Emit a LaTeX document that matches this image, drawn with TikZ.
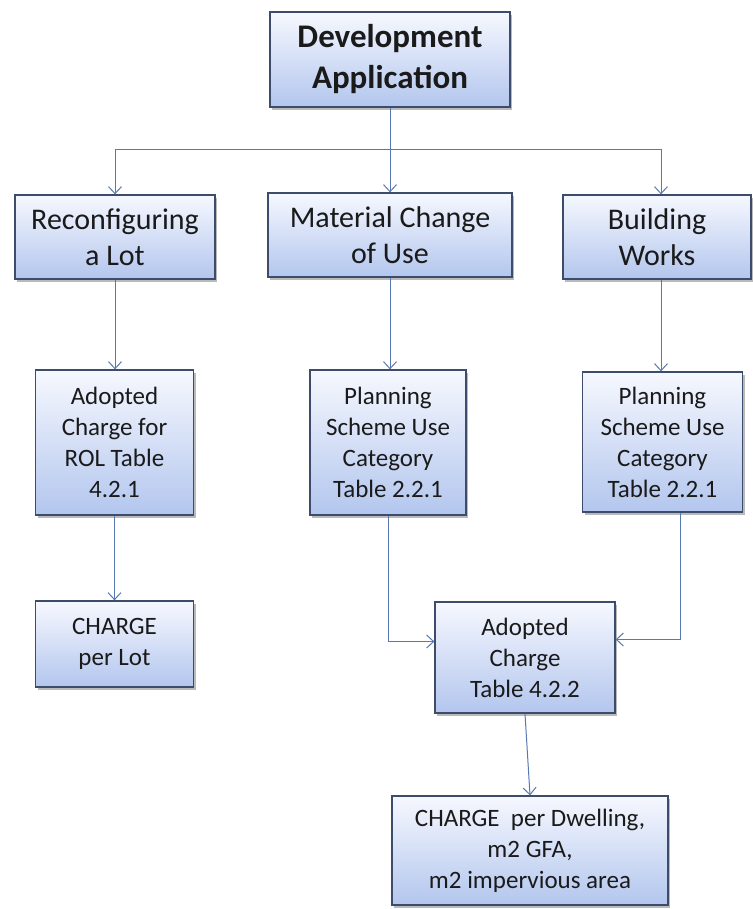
\documentclass[tikz,border=0pt]{standalone}
\usepackage{fontspec}
\setmainfont{Carlito}
\usetikzlibrary{arrows.meta,shadows}
\definecolor{boxedge}{HTML}{3E4C6C}
\definecolor{boxtop}{HTML}{F6F8FE}
\definecolor{boxbot}{HTML}{B3C6EE}
\definecolor{linec}{HTML}{5878B0}
\definecolor{txt}{HTML}{1A1A1A}
\begin{document}
\begin{tikzpicture}[x=1pt,y=-1pt,
  box/.style={draw=boxedge, line width=1.3pt, top color=boxtop, bottom color=boxbot,
    drop shadow={shadow xshift=2pt, shadow yshift=-3pt, fill=black!60, opacity=0.45},
    align=center, text=txt, inner sep=0pt,
    font=\fontsize{25}{31}\selectfont},
  bigbox/.style={box, font=\fontsize{30}{36}\selectfont},
  conn/.style={draw=linec, line width=1pt, -{Straight Barb[length=7pt,width=13pt]}},
  plain/.style={draw=linec, line width=1pt}]
\useasboundingbox (0,0) rectangle (752,909);
\fill[white] (0,0) rectangle (752,909);

\node[box, font=\bfseries\fontsize{33}{41}\selectfont, minimum width=240pt, minimum height=95pt] (dev) at (390,59.5) {Development\\Application};

\node[bigbox, minimum width=200pt, minimum height=84pt] (rec) at (115,237) {Reconfiguring\\a Lot};
\node[bigbox, minimum width=244pt, minimum height=84pt] (mcu) at (390,235) {Material Change\\of Use};
\node[bigbox, minimum width=188pt, minimum height=84pt] (bw) at (657,237) {Building\\Works};

\node[box, minimum width=158pt, minimum height=145pt] (rol) at (114.5,442.5) {Adopted\\Charge for\\ROL Table\\4.2.1};
\node[box, minimum width=156pt, minimum height=145pt] (ps1) at (388,442.5) {Planning\\Scheme Use\\Category\\Table 2.2.1};
\node[box, minimum width=160pt, minimum height=140pt] (ps2) at (662.5,442) {Planning\\Scheme Use\\Category\\Table 2.2.1};

\node[box, minimum width=158pt, minimum height=86pt] (cpl) at (114.5,644) {CHARGE\\per Lot};
\node[box, minimum width=180pt, minimum height=111pt] (ac) at (525,657.5) {Adopted\\Charge\\Table 4.2.2};
\node[box, minimum width=276pt, minimum height=109pt] (cpd) at (530,850.5) {CHARGE\ \ per Dwelling,\\m2 GFA,\\m2 impervious area};

\coordinate (j) at (390,150);
\draw[plain] (dev.south) -- (j);
\draw[conn] (j) -| (rec.north);
\draw[conn] (j) -- (mcu.north);
\draw[conn] (j) -| ([xshift=4pt]bw.north);

\draw[conn] (rec.south) -- (rec.south |- rol.north);
\draw[conn] (mcu.south) -- (mcu.south |- ps1.north);
\draw[conn] ([xshift=4pt]bw.south) -- ([xshift=4pt]bw.south |- ps2.north);

\draw[conn] (rol.south) -- (cpl.north);
\draw[conn] (ps1.south) |- ([yshift=16pt]ac.west);
\draw[conn] ([xshift=18pt]ps2.south) |- ([yshift=18pt]ac.east);
\draw[conn] (ac.south) -- (cpd.north);
\end{tikzpicture}
\end{document}
